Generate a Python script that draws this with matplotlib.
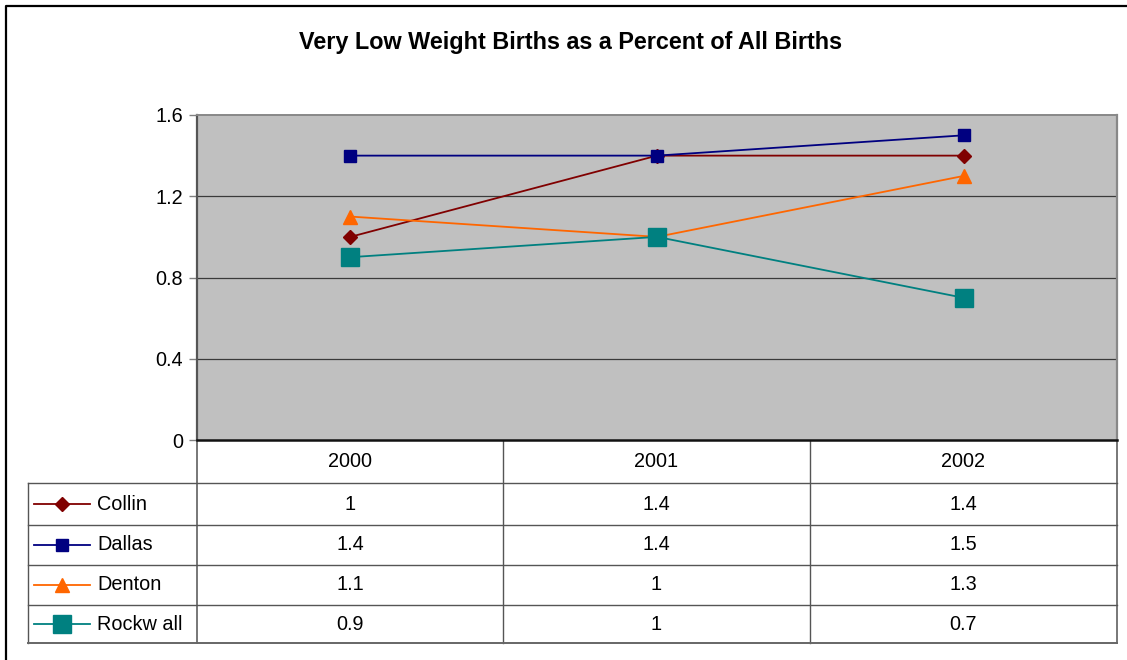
import matplotlib
matplotlib.use("Agg")
import matplotlib.pyplot as plt

plt.rcParams['font.family'] = ['Liberation Sans', 'DejaVu Sans']

title = "Very Low Weight Births as a Percent of All Births"
years = ["2000", "2001", "2002"]
series_names = ["Collin", "Dallas", "Denton", "Rockw all"]
collin = [1, 1.4, 1.4]
dallas = [1.4, 1.4, 1.5]
denton = [1.1, 1, 1.3]
rockwall = [0.9, 1, 0.7]
values = [collin, dallas, denton, rockwall]
value_labels = [["1", "1.4", "1.4"], ["1.4", "1.4", "1.5"],
                ["1.1", "1", "1.3"], ["0.9", "1", "0.7"]]
yticks = [0, 0.4, 0.8, 1.2, 1.6]
ytick_labels = ["0", "0.4", "0.8", "1.2", "1.6"]

colors = ["#800000", "#000080", "#FF6600", "#008080"]
markers = ["D", "s", "^", "s"]
msizes = [7, 8, 10, 13]

FS = 14.3

W, H = 1127, 660
fig = plt.figure(figsize=(W / 100, H / 100), dpi=100)

ov = fig.add_axes([0, 0, 1, 1])
ov.set_xlim(0, W)
ov.set_ylim(H, 0)
ov.axis("off")

ov.plot([6, 6, W + 5], [H + 5, 6, 6], color="black", lw=1.6, solid_capstyle="butt")

px0, px1 = 197, 1117
py0, py1 = 115, 440
ax = fig.add_axes([px0 / W, (H - py1) / H, (px1 - px0) / W, (py1 - py0) / H])
ax.set_facecolor("#C0C0C0")
ax.set_xlim(-0.5, 2.5)
ax.set_ylim(0, 1.6)
ax.set_yticks(yticks)
ax.set_yticklabels(ytick_labels, fontsize=FS)
ax.set_xticks([])
ax.tick_params(axis="y", length=6, width=1, color="#808080", pad=4)
for g in yticks[1:-1]:
    ax.axhline(g, color="#3a3a3a", lw=0.9, zorder=1)
ax.spines["left"].set_color("#555555")
ax.spines["left"].set_linewidth(1.6)
ax.spines["top"].set_color("#888888")
ax.spines["top"].set_linewidth(1.4)
ax.spines["right"].set_color("#888888")
ax.spines["right"].set_linewidth(1.6)
ax.spines["bottom"].set_color("#111111")
ax.spines["bottom"].set_linewidth(1.8)

xs = list(range(len(years)))
for vals, c, m, ms in zip(values, colors, markers, msizes):
    ax.plot(xs, vals, color=c, lw=1.3, marker=m, markersize=ms,
            markerfacecolor=c, markeredgecolor=c, zorder=3, clip_on=False)

fig.text(571 / W, 1 - 42 / H, title, ha="center", va="center",
         fontsize=16.8, fontweight="bold")

col_edges = [197, 503, 810, 1117]
row_edges = [440, 483, 525, 565, 605, 643]
leg_x0 = 28
lc = "#555555"
for i, x in enumerate(col_edges):
    ov.plot([x, x], [row_edges[0], row_edges[-1]], color=("#777777" if i in (0, 3) else lc),
            lw=1.4 if i in (0, 3) else 1.0, zorder=2)
ov.plot([leg_x0, leg_x0], [row_edges[1], row_edges[-1]], color=lc, lw=1.0)
for j, y in enumerate(row_edges[1:]):
    last = j == len(row_edges) - 2
    ov.plot([leg_x0, col_edges[-1]], [y, y], color=("#666666" if last else lc),
            lw=1.4 if last else 1.0)

for k, yr in enumerate(years):
    cx = (col_edges[k] + col_edges[k + 1]) / 2
    ov.text(cx, (row_edges[0] + row_edges[1]) / 2, yr, ha="center", va="center", fontsize=FS)

for r, (name, labs, c, m, ms) in enumerate(zip(series_names, value_labels, colors, markers, msizes)):
    cy = (row_edges[r + 1] + row_edges[r + 2]) / 2
    ov.plot([34, 90], [cy, cy], color=c, lw=1.3)
    ov.plot([62], [cy], marker=m, markersize=ms, color=c, markeredgecolor=c)
    ov.text(97, cy, name, ha="left", va="center", fontsize=FS)
    for k, lab in enumerate(labs):
        cx = (col_edges[k] + col_edges[k + 1]) / 2
        ov.text(cx, cy, lab, ha="center", va="center", fontsize=FS)

fig.savefig("out.png", dpi=100)
